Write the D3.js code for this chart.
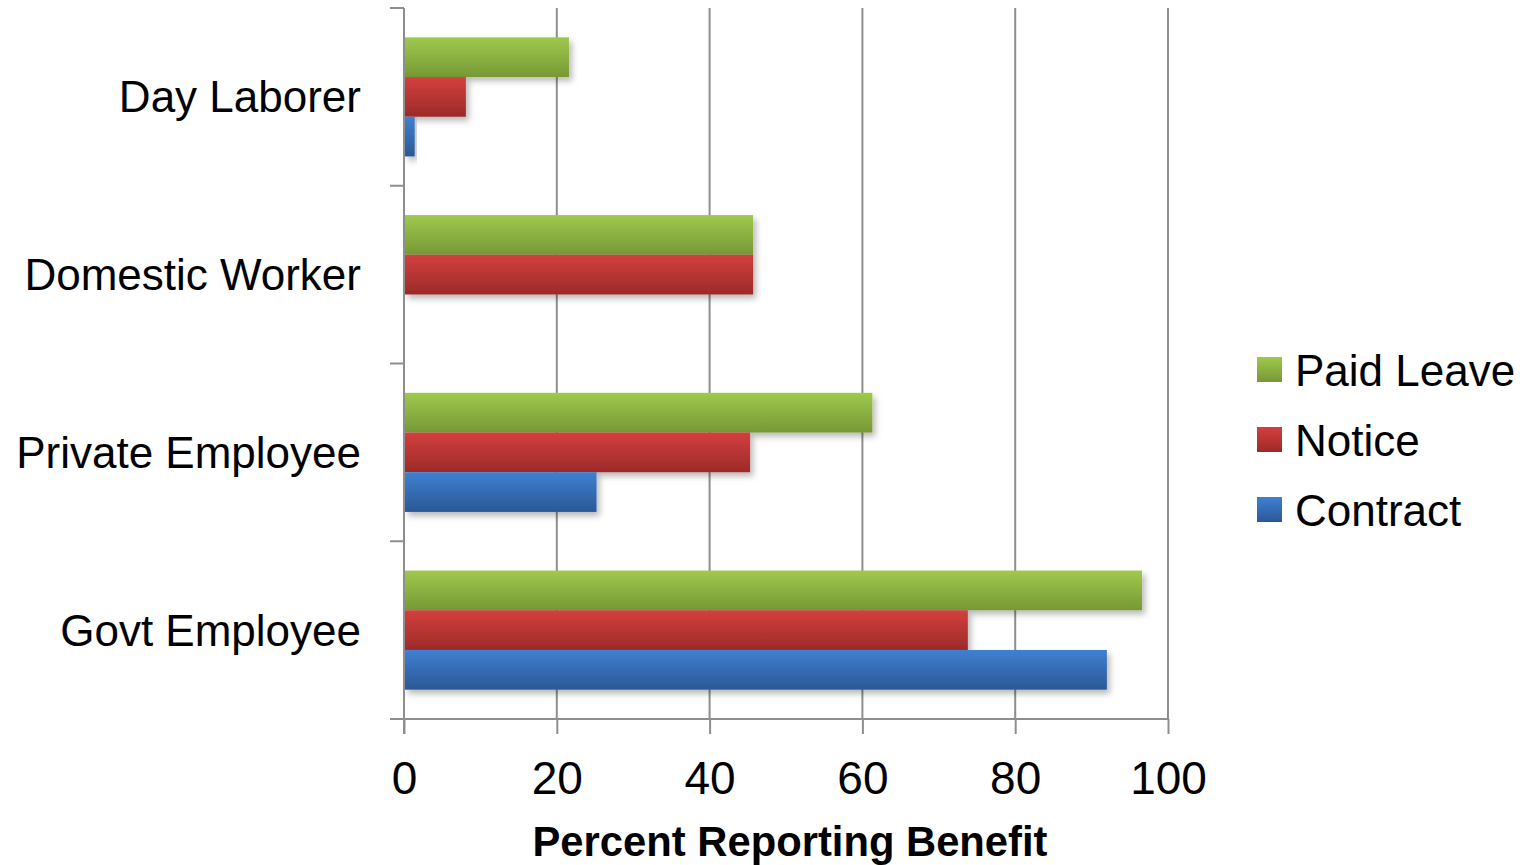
<!DOCTYPE html>
<html><head><meta charset="utf-8">
<script src="https://cdn.jsdelivr.net/npm/d3@7"></script>
<style>body{margin:0;background:#fff}svg{display:block}</style>
</head><body>
<svg id="chart" width="1522" height="865"></svg>
<script>
const categories = ["Day Laborer", "Domestic Worker", "Private Employee", "Govt Employee"];
const seriesNames = ["Paid Leave", "Notice", "Contract"];
const paidLeave = [21.6, 45.7, 61.3, 96.6];
const notice = [8.1, 45.7, 45.3, 73.8];
const contract = [1.4, 0, 25.2, 92.0];
const xTicks = [0, 20, 40, 60, 80, 100];
const axisTitle = "Percent Reporting Benefit";

(function () {
const seriesValues = [paidLeave, notice, contract];
const colors = [
  {top: "#9fc94c", bot: "#779836"},
  {top: "#d3403e", bot: "#9c2a29"},
  {top: "#3f80d1", bot: "#2a5896"}
];
const font = "'Liberation Sans', Arial, sans-serif";

const svg = d3.select("#chart");
const defs = svg.append("defs");
colors.forEach((c, i) => {
  const g = defs.append("linearGradient").attr("id", "g" + i)
    .attr("x1", 0).attr("y1", 0).attr("x2", 0).attr("y2", 1);
  g.append("stop").attr("offset", "0%").attr("stop-color", c.top);
  g.append("stop").attr("offset", "100%").attr("stop-color", c.bot);
});
const f = defs.append("filter").attr("id", "sh").attr("x", "-10%").attr("y", "-20%").attr("width", "130%").attr("height", "160%");
f.append("feDropShadow").attr("dx", 3).attr("dy", 4).attr("stdDeviation", 3)
  .attr("flood-color", "#000").attr("flood-opacity", 0.28);

const pLeft = 404, pRight = 1168, pTop = 8, pBottom = 719;
const x = d3.scaleLinear().domain([0, 100]).range([pLeft, pRight]);
const y = d3.scaleBand().domain(categories).range([pTop, pBottom]).paddingInner(0.33).paddingOuter(0.165);
const y1 = d3.scaleBand().domain(seriesNames).range([0, y.bandwidth()]);
const gridColor = "#8e8e8e";

// gridlines
svg.append("g").selectAll("line").data(xTicks.filter(d => d > 0)).join("line")
  .attr("x1", d => x(d)).attr("x2", d => x(d)).attr("y1", pTop).attr("y2", pBottom)
  .attr("stroke", gridColor).attr("stroke-width", 2);

// bars
const grp = svg.append("g").selectAll("g").data(categories).join("g")
  .attr("transform", c => `translate(0,${y(c)})`);
grp.selectAll("rect").data((c, ci) => seriesNames.map((s, si) => ({s, si, v: seriesValues[si][ci]})).filter(d => d.v > 0))
  .join("rect")
  .attr("x", x(0) + 1).attr("y", d => y1(d.s))
  .attr("width", d => x(d.v) - x(0) - 1).attr("height", y1.bandwidth())
  .attr("fill", d => `url(#g${d.si})`).attr("filter", "url(#sh)");

// x axis
const xAxis = svg.append("g").attr("transform", `translate(0,${pBottom})`)
  .call(d3.axisBottom(x).tickValues(xTicks).tickSize(15).tickPadding(27).tickSizeOuter(0));
xAxis.select(".domain").attr("stroke", gridColor).attr("stroke-width", 2).attr("d", `M${pLeft-14},0H${pRight}`);
xAxis.selectAll(".tick line").attr("stroke", gridColor).attr("stroke-width", 2);
xAxis.selectAll(".tick text").attr("font-family", font).attr("font-size", 46).attr("fill", "#000");

// y axis
const yAxisG = svg.append("g");
yAxisG.append("line").attr("x1", pLeft).attr("x2", pLeft).attr("y1", pTop).attr("y2", pBottom + 15)
  .attr("stroke", gridColor).attr("stroke-width", 2);
const bounds = categories.map(c => y(c) - y.step() * y.paddingInner() / 2);
yAxisG.selectAll("line.t").data(bounds).join("line").attr("class", "t")
  .attr("x1", pLeft - 14).attr("x2", pLeft).attr("y1", d => d).attr("y2", d => d)
  .attr("stroke", gridColor).attr("stroke-width", 2);
yAxisG.selectAll("text").data(categories).join("text")
  .attr("x", 361).attr("y", c => y(c) + y.bandwidth() / 2)
  .attr("text-anchor", "end").attr("dominant-baseline", "central")
  .attr("font-family", font).attr("font-size", 44).attr("fill", "#000").text(c => c);

// axis title
svg.append("text").attr("x", 790).attr("y", 856).attr("text-anchor", "middle")
  .attr("font-family", font).attr("font-weight", "bold").attr("font-size", 43)
  .attr("textLength", 515).attr("lengthAdjust", "spacingAndGlyphs").text(axisTitle);

// legend
const lg = svg.append("g").selectAll("g").data(seriesNames).join("g")
  .attr("transform", (d, i) => `translate(1257,${357 + i * 70})`);
lg.append("rect").attr("width", 25).attr("height", 25).attr("fill", (d, i) => `url(#g${i})`);
lg.append("text").attr("x", 38).attr("y", 13).attr("dominant-baseline", "central")
  .attr("font-family", font).attr("font-size", 44).attr("fill", "#000").text(d => d);
})();
</script>
</body></html>
